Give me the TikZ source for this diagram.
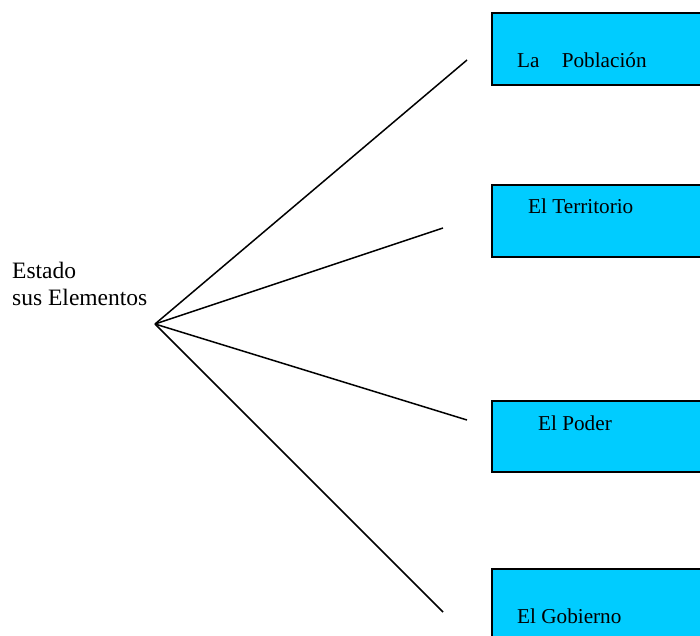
\documentclass[tikz,border=0pt]{standalone}
\usepackage{fontspec}
\setmainfont{Liberation Serif}
\definecolor{boxcyan}{HTML}{00CCFF}
\tikzset{
  box/.style={draw=black, fill=boxcyan, line width=1.5pt, anchor=north west, inner sep=0pt},
  lbl/.style={anchor=base west, inner sep=0pt, font=\fontsize{21.2}{25}\selectfont},
  side/.style={anchor=base west, inner sep=0pt, font=\fontsize{23.5}{28}\selectfont},
  spoke/.style={draw=black, line width=1.5pt}
}
\begin{document}
\begin{tikzpicture}[x=1pt,y=-1pt]
\clip (0,0) rectangle (700,635);
\fill[white] (0,0) rectangle (700,635);
% boxes
\node[box, minimum width=240pt, minimum height=72pt] (b1) at (491,12) {};
\node[box, minimum width=240pt, minimum height=72pt] (b2) at (491,184) {};
\node[box, minimum width=240pt, minimum height=71pt] (b3) at (491,400) {};
\node[box, minimum width=240pt, minimum height=90pt] (b4) at (491,568) {};
% labels
\node[lbl] (t1) at (517,67) {La\hspace{17pt} Población};
\node[lbl] (t2) at (528,213) {El Territorio};
\node[lbl] (t3) at (538,430) {El Poder};
\node[lbl] (t4) at (517,623) {El Gobierno};
\node[side] (s1) at (12,278) {Estado};
\node[side] (s2) at (12,305) {sus Elementos};
% spokes
\coordinate (hub) at (155,324);
\coordinate (e1) at (467,60);
\coordinate (e2) at (443,228);
\coordinate (e3) at (467,420);
\coordinate (e4) at (443,612);
\draw[spoke] (hub) -- (e1);
\draw[spoke] (hub) -- (e2);
\draw[spoke] (hub) -- (e3);
\draw[spoke] (hub) -- (e4);
\end{tikzpicture}
\end{document}
